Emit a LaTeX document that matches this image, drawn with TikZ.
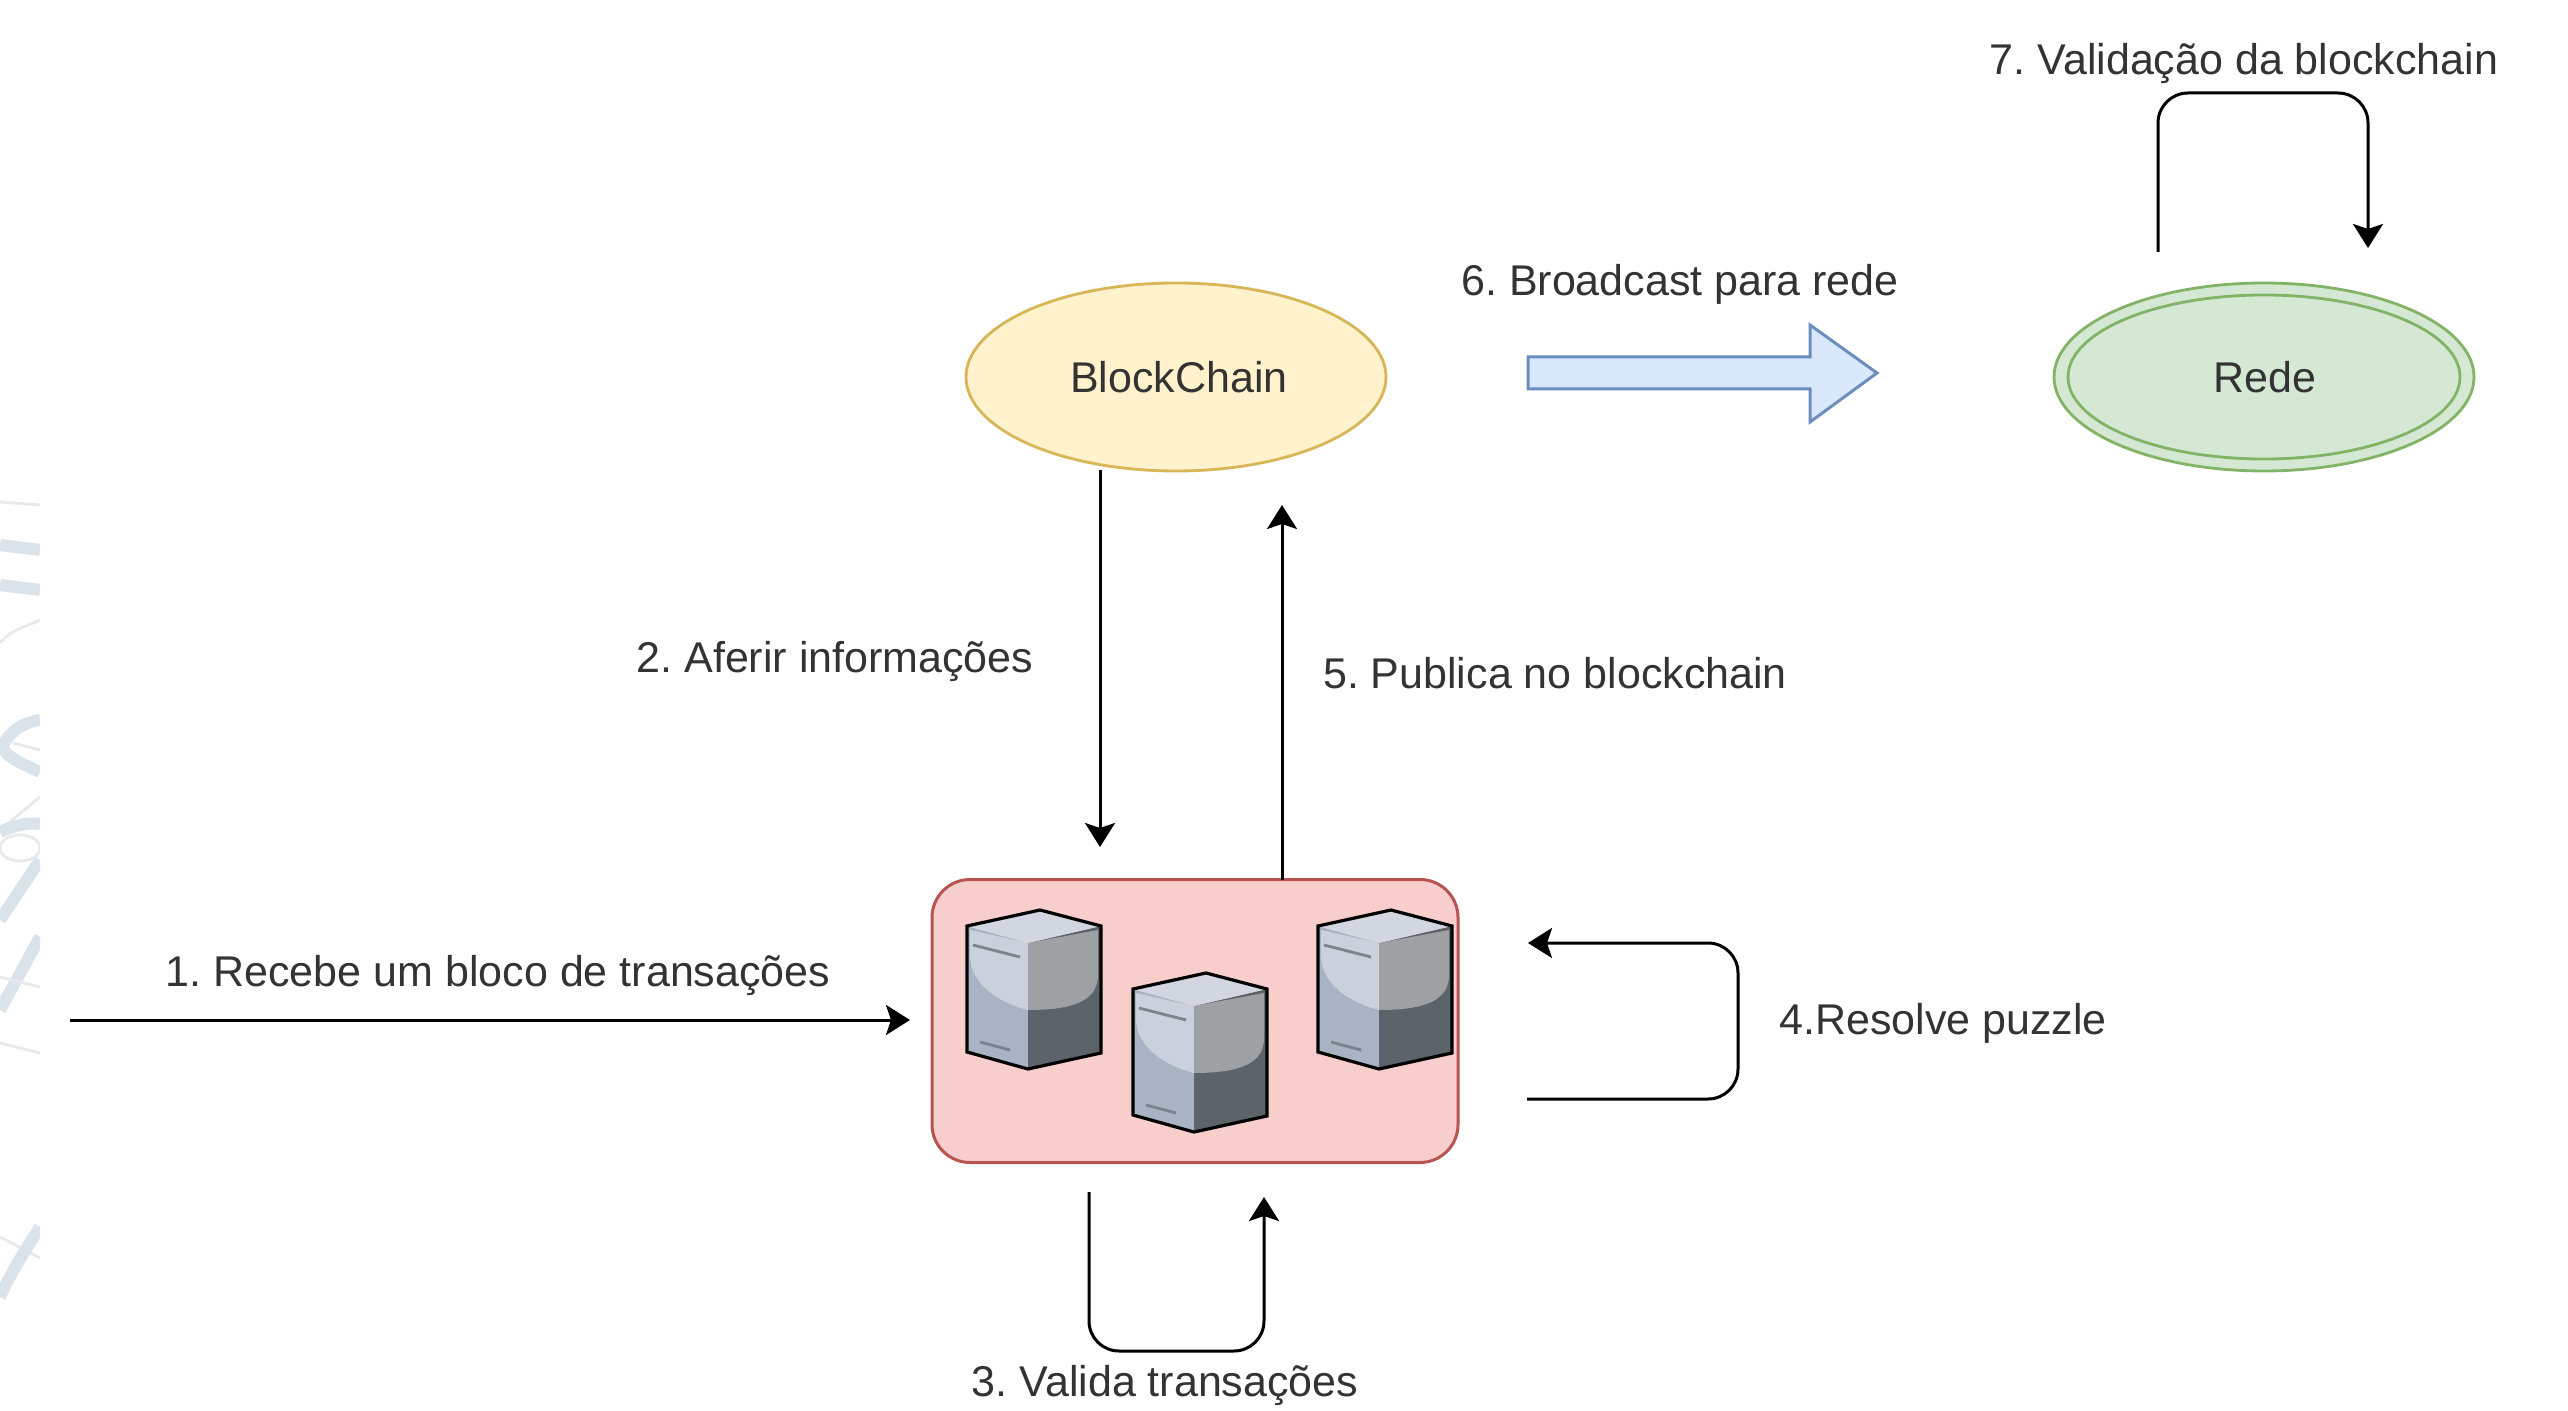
\documentclass[tikz,border=0pt]{standalone}
\usepackage{fontspec}
\setmainfont{Liberation Sans}
\frenchspacing
\usetikzlibrary{arrows.meta,shapes.geometric}
\definecolor{txt}{HTML}{333333}
\definecolor{mark}{HTML}{DAE3E9}
\definecolor{markthin}{HTML}{E8EAEA}
\newcommand{\serverbox}[2]{%
\begin{scope}[shift={(#1,#2)}]
\fill[srvlow] (967,926) -- (1028,943) -- (1028,1070) -- (967,1052) -- cycle;
\fill[srvdark] (1028,943) -- (1101,926) -- (1101,1053) -- (1028,1070) -- cycle;
\fill[srvlight] (970,930) -- (1028,943) -- (1028,1010) .. controls (1000,1003) and (970,985) .. (970,955) -- cycle;
\fill[srvgrey] (1028,943) -- (1098,930) -- (1098,975) .. controls (1098,1000) and (1075,1010) .. (1028,1010) -- cycle;
\fill[srvtop] (967,926) -- (1040,910) -- (1101,926) -- (1028,943) -- cycle;
\draw[srvtick] (973,945) -- (1020,957);
\draw[srvtick] (980,1042) -- (1010,1050);
\draw[srvedge] (967,926) -- (1040,910) -- (1101,926) -- (1101,1053) -- (1028,1069) -- (967,1052) -- cycle;
\end{scope}}
\tikzset{
 every node/.style={font=\fontsize{21.5}{25}\selectfont,text=txt,inner sep=0pt},
 conn/.style={draw=black,line width=1.5pt},
 arr/.style={conn,-{Stealth[length=12pt,width=15pt,inset=2.5pt]}},
 loopconn/.style={arr,rounded corners=15pt},
 oval/.style={ellipse,minimum width=210pt,minimum height=94pt,line width=1.4pt},
 srvlow/.style={fill={rgb,255:red,170;green,179;blue,196}},
 srvdark/.style={fill={rgb,255:red,92;green,99;blue,105}},
 srvlight/.style={fill={rgb,255:red,203;green,209;blue,220}},
 srvgrey/.style={fill={rgb,255:red,157;green,161;blue,164}},
 srvtop/.style={fill={rgb,255:red,210;green,214;blue,225}},
 srvtick/.style={draw={rgb,255:red,125;green,130;blue,140},line width=1.4pt},
 srvedge/.style={draw=black,line width=1.6pt,line join=miter},
 markthick/.style={draw=mark,line width=6pt},
 markfine/.style={draw=markthin,line width=1.4pt},
}
\begin{document}
\begin{tikzpicture}[x=0.5pt,y=-0.5pt]
\useasboundingbox (0,0) rectangle (2568,1411);
\fill[white] (0,0) rectangle (2568,1411);
% faint background mark, cut off at x=40
\begin{scope}
\clip (0,480) rectangle (40,1340);
\draw[markfine] (0,502) -- (40,505);
\draw[markthick] (0,545) -- (40,550);
\draw[markthick] (0,585) -- (40,590);
\draw[markfine] (0,643) .. controls (10,630) and (25,627) .. (40,620);
\draw[markthick] (0,752) .. controls (8,730) and (25,722) .. (40,720);
\draw[markthick] (2,745) .. controls (4,757) and (25,765) .. (40,772);
\draw[markfine] (13,743) -- (40,750);
\draw[markfine] (0,830) -- (40,797);
\draw[markthick] (0,832) .. controls (12,826) and (28,822) .. (40,824);
\draw[markfine] (20,848) ellipse (20 and 13);
\draw[markthick] (0,920) -- (40,860);
\draw[markthick] (0,1010) -- (40,937);
\draw[markfine] (0,977) -- (40,987);
\draw[markfine] (0,1043) -- (40,1053);
\draw[markfine] (0,1237) -- (40,1258);
\draw[markthick] (0,1297) .. controls (8,1278) and (25,1250) .. (40,1227);
\end{scope}
% nodes
\node[oval,draw={rgb,255:red,214;green,182;blue,86},fill={rgb,255:red,255;green,242;blue,204}] (bc) at (1176,377) {};
\node at (1179,377) (bctext) {BlockChain};
\node[oval,draw={rgb,255:red,130;green,179;blue,102},fill={rgb,255:red,213;green,232;blue,212}] (rede) at (2264,377) {};
\node[ellipse,minimum width=196pt,minimum height=82pt,draw={rgb,255:red,130;green,179;blue,102},line width=1.4pt] (redein) at (2264,377) {};
\node at (2265,377) (redetext) {Rede};
\node[draw={rgb,255:red,184;green,84;blue,80},fill={rgb,255:red,248;green,206;blue,204},line width=1.5pt,rounded corners=19pt,minimum width=263pt,minimum height=141.5pt] (box) at (1195,1021) {};
\serverbox{0}{0}
\serverbox{166}{63}
\serverbox{351}{0}
% block arrow
\draw[draw={rgb,255:red,108;green,142;blue,191},fill={rgb,255:red,218;green,232;blue,252},line width=1.5pt,line join=miter] (1528,357) -- (1810,357) -- (1810,325) -- (1877,373) -- (1810,422) -- (1810,389) -- (1528,389) -- cycle;
% labels
\node (l1) at (498,975.5) {1. Recebe um bloco de transações};
\node (l2) at (835,661.5) {2. Aferir informações};
\node (l3) at (1165,1385.5) {3. Valida transações};
\node (l4) at (1943,1023.5) {4.Resolve puzzle};
\node (l5) at (1555,673) {5. Publica no blockchain};
\node (l6) at (1680,284.5) {6. Broadcast para rede};
\node (l7) at (2244,63.5) {7. Validação da blockchain};
% connector ends
\coordinate (in1) at (70,1020);
\coordinate (to1) at (910,1020);
\coordinate (fr2) at (1100,470);
\coordinate (to2) at (1100,847);
\coordinate (fr5) at (1282,880);
\coordinate (to5) at (1282,505);
\coordinate (fr3) at (1089,1192);
\coordinate (to3) at (1264,1197);
\coordinate (fr4) at (1527,1099);
\coordinate (to4) at (1528,943);
\coordinate (fr7) at (2158,252);
\coordinate (to7) at (2368,248);
\draw[arr] (in1) -- (to1);
\draw[arr] (fr2) -- (to2);
\draw[arr] (fr5) -- (to5);
\draw[loopconn] (fr3) -- (1089,1351) -- (1264,1351) -- (to3);
\draw[loopconn] (fr4) -- (1738,1099) -- (1738,943) -- (to4);
\draw[loopconn] (fr7) -- (2158,93) -- (2368,93) -- (to7);
\end{tikzpicture}
\end{document}
